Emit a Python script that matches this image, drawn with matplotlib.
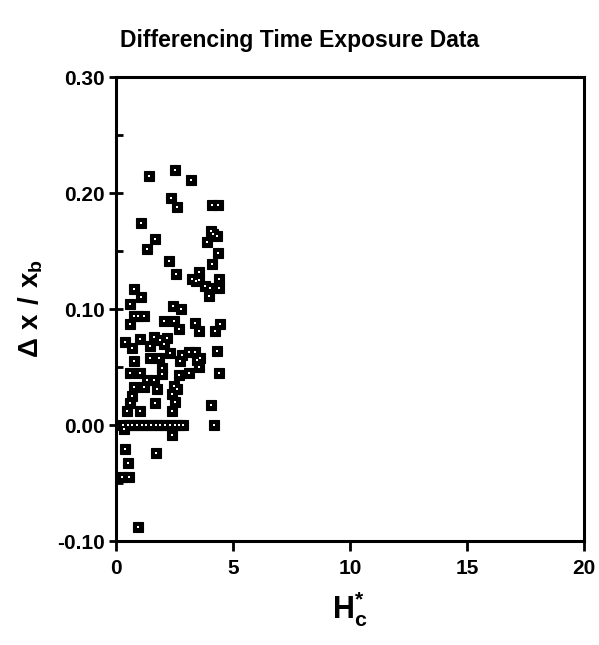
import matplotlib.pyplot as plt
from matplotlib.ticker import MultipleLocator, FormatStrFormatter

plt.rcParams['font.family'] = ['Liberation Sans', 'DejaVu Sans']
plt.rcParams['mathtext.fontset'] = 'custom'
plt.rcParams['mathtext.bf'] = 'Liberation Sans:bold'
plt.rcParams['mathtext.rm'] = 'Liberation Sans:bold'

# H_c* values and matching dx/xb values
hc = [1.41, 2.52, 3.20, 2.35, 2.60, 4.10, 4.35, 1.07, 1.67, 1.32,
      3.90, 4.15, 4.05, 4.30, 4.35, 4.10, 2.26, 2.56, 3.55, 3.25,
      3.40, 3.55, 3.80, 4.00, 4.40, 4.40, 3.97, 0.77, 1.07, 0.60,
      2.44, 2.78, 0.77, 1.20, 0.95, 0.60, 2.05, 2.48, 3.38, 3.55,
      4.23, 4.44, 2.69, 0.38, 0.68, 1.03, 1.45, 1.62, 1.88, 2.18,
      2.05, 2.30, 2.82, 3.12, 3.38, 3.59, 4.32, 1.45, 1.85, 0.77,
      2.74, 3.46, 1.97, 0.60, 1.03, 1.97, 2.69, 3.12, 3.55, 4.40,
      1.32, 1.62, 0.77, 1.20, 1.75, 2.48, 2.62, 2.39, 0.68, 0.60,
      1.67, 4.05, 0.47, 1.03, 2.39, 2.50,
      0.30, 0.50, 0.70, 0.90, 1.10, 1.30, 1.50, 1.70, 1.90, 2.10,
      2.30, 2.50, 2.70, 2.85, 4.20,
      0.34, 2.39, 0.40, 1.70, 0.50, 0.27, 0.57, 0.94]
dx_xb = [0.215, 0.220, 0.211, 0.196, 0.188, 0.190, 0.190, 0.174, 0.160, 0.152,
         0.158, 0.165, 0.167, 0.163, 0.148, 0.139, 0.141, 0.130, 0.132, 0.126,
         0.124, 0.125, 0.120, 0.118, 0.126, 0.118, 0.111, 0.117, 0.110, 0.104,
         0.103, 0.100, 0.094, 0.094, 0.094, 0.087, 0.090, 0.090, 0.088, 0.081,
         0.081, 0.087, 0.083, 0.072, 0.066, 0.074, 0.068, 0.076, 0.073, 0.075,
         0.070, 0.062, 0.060, 0.063, 0.063, 0.058, 0.064, 0.058, 0.058, 0.055,
         0.055, 0.056, 0.049, 0.045, 0.045, 0.044, 0.043, 0.045, 0.050, 0.045,
         0.039, 0.039, 0.033, 0.033, 0.031, 0.034, 0.031, 0.027, 0.025, 0.019,
         0.019, 0.017, 0.012, 0.012, 0.012, 0.020,
         0.000, 0.000, 0.000, 0.000, 0.000, 0.000, 0.000, 0.000, 0.000, 0.000,
         0.000, 0.000, 0.000, 0.000, 0.000,
         -0.003, -0.009, -0.021, -0.024, -0.033, -0.045, -0.045, -0.088]

fig = plt.figure(figsize=(5.99, 6.45), dpi=100)
ax = fig.add_axes([0.1937, 0.1612, 0.7813, 0.7194])

# black square with a small white square in the middle
ax.plot(hc, dx_xb, linestyle='none', marker='s', markersize=7.8,
        markerfacecolor='black', markeredgecolor='black', markeredgewidth=0.8)
ax.plot(hc, dx_xb, linestyle='none', marker='s', markersize=1.6,
        markerfacecolor='white', markeredgecolor='white', markeredgewidth=0)

ax.set_xlim(0, 20)
ax.set_ylim(-0.1, 0.3)
ax.xaxis.set_major_locator(MultipleLocator(5))
ax.yaxis.set_major_locator(MultipleLocator(0.1))
ax.yaxis.set_minor_locator(MultipleLocator(0.05))
ax.yaxis.set_major_formatter(FormatStrFormatter('%.2f'))

for s in ax.spines.values():
    s.set_linewidth(2.2)
ax.tick_params(axis='x', direction='out', length=7, width=2, labelsize=15, pad=6)
ax.tick_params(axis='y', which='major', direction='inout', length=10, width=2,
               labelsize=15, pad=3)
ax.tick_params(axis='y', which='minor', direction='in', length=5, width=2)
for lbl in ax.get_xticklabels() + ax.get_yticklabels():
    lbl.set_fontweight('bold')

ax.set_xlabel(r'$\mathbf{H}_{\mathbf{c}}^{\mathbf{*}}$', fontsize=22, labelpad=8)
ax.set_ylabel(r'$\mathbf{\Delta\ x\ /\ x_b}$', fontsize=20, labelpad=9)

fig.text(0.5, 0.937, 'Differencing Time Exposure Data', ha='center', va='center',
         fontsize=16.5, fontweight='bold')

fig.savefig('out.png', dpi=100)
